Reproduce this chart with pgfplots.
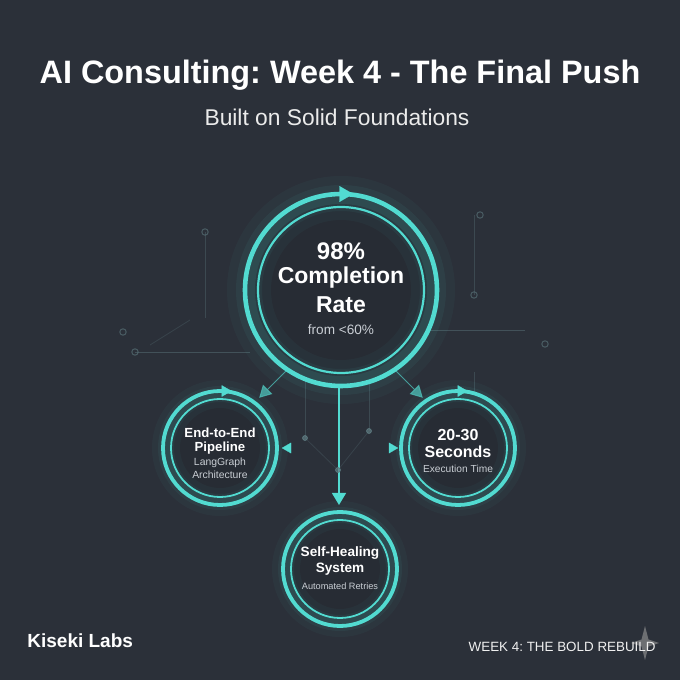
\documentclass[border=0pt]{standalone}
\usepackage{pgfplots}
\pgfplotsset{compat=1.18}
\usepackage{fontspec}
\setmainfont{Liberation Sans}
\usetikzlibrary{arrows.meta}
\definecolor{bg}{HTML}{2B3039}
\definecolor{inner}{HTML}{272C34}
\definecolor{cy}{HTML}{52DBD1}
\definecolor{cyl}{HTML}{4CB8B2}
\definecolor{sub}{HTML}{C9CED4}
\definecolor{faint}{HTML}{5E7A80}
\newcommand{\fs}[1]{\fontsize{#1}{#1}\selectfont}
\frenchspacing
\begin{document}
\begin{tikzpicture}
\begin{axis}[
  hide axis, scale only axis, width=340pt, height=340pt,
  xmin=0, xmax=680, ymin=0, ymax=680, y dir=reverse, clip=false,
  set layers,
]
\fill[bg] (axis cs:0,0) rectangle (axis cs:680,680);
% faint background network
\addplot[faint, opacity=0.45, line width=0.4pt] coordinates {(135,352) (250,352)};
\addplot[faint, opacity=0.45, line width=0.4pt] coordinates {(430,330) (525,330)};
\addplot[faint, opacity=0.35, line width=0.4pt] coordinates {(205,232) (205,318)};
\addplot[faint, opacity=0.35, line width=0.4pt] coordinates {(474,215) (474,295)};
\addplot[faint, opacity=0.35, line width=0.4pt] coordinates {(305,372) (305,438)};
\addplot[faint, opacity=0.35, line width=0.4pt] coordinates {(369,372) (369,431)};
\addplot[faint, opacity=0.35, line width=0.4pt] coordinates {(474,372) (474,392)};
\addplot[faint, opacity=0.25, line width=0.4pt] coordinates {(305,438) (338,470) (369,431)};
\addplot[faint, opacity=0.25, line width=0.4pt] coordinates {(190,320) (150,345)};
\addplot[faint, only marks, mark=o, mark size=1.6pt, mark options={draw=faint, line width=0.5pt, draw opacity=0.6}]
  coordinates {(135,352) (123,332) (474,295) (545,344) (480,215) (205,232)};
\addplot[faint, only marks, mark=*, mark size=1.2pt, mark options={fill=faint, draw=none, fill opacity=0.7}]
  coordinates {(305,438) (369,431) (338,470)};
% interiors
\addplot[inner, only marks, mark=*, mark size=48pt, mark options={fill=inner, draw=none}] coordinates {(341,290)};
\addplot[inner, only marks, mark=*, mark size=28.5pt, mark options={fill=inner, draw=none}] coordinates {(220,448) (458,448) (340,569)};
% glows
\addplot[cy, only marks, mark=o, mark size=46pt, mark options={draw=cy, line width=22pt, draw opacity=0.04}] coordinates {(341,290)};
\addplot[cy, only marks, mark=o, mark size=46pt, mark options={draw=cy, line width=13pt, draw opacity=0.06}] coordinates {(341,290)};
\addplot[cy, only marks, mark=o, mark size=46pt, mark options={draw=cy, line width=6pt, draw opacity=0.10}] coordinates {(341,290)};
\addplot[cy, only marks, mark=o, mark size=27pt, mark options={draw=cy, line width=14pt, draw opacity=0.04}] coordinates {(220,448) (458,448) (340,569)};
\addplot[cy, only marks, mark=o, mark size=27pt, mark options={draw=cy, line width=8pt, draw opacity=0.06}] coordinates {(220,448) (458,448) (340,569)};
\addplot[cy, only marks, mark=o, mark size=27pt, mark options={draw=cy, line width=4pt, draw opacity=0.10}] coordinates {(220,448) (458,448) (340,569)};
% rings
\addplot[cy, only marks, mark=o, mark size=48pt, mark options={draw=cy, line width=2.3pt}] coordinates {(341,290)};
\addplot[cy, only marks, mark=o, mark size=41.5pt, mark options={draw=cy, line width=1.1pt}] coordinates {(341,290)};
\addplot[cy, only marks, mark=o, mark size=28.5pt, mark options={draw=cy, line width=1.9pt}] coordinates {(220,448) (458,448) (340,569)};
\addplot[cy, only marks, mark=o, mark size=24.5pt, mark options={draw=cy, line width=0.9pt}] coordinates {(220,448) (458,448) (340,569)};
% ring arrowheads
\addplot[cy, only marks, mark=triangle*, mark size=4.5pt, mark options={fill=cy, draw=cy, line width=0.1pt, rotate=-90}] coordinates {(344,194)};
\addplot[cy, only marks, mark=triangle*, mark size=3.2pt, mark options={fill=cy, draw=cy, line width=0.1pt, rotate=-90}] coordinates {(225,391) (461,391)};
% connectors
\addplot[cyl, opacity=0.8, line width=0.5pt, -{Triangle[length=6pt,width=6.5pt]}, shorten >=-2pt] coordinates {(289,368) (262,395)};
\addplot[cyl, opacity=0.8, line width=0.5pt, -{Triangle[length=6pt,width=6.5pt]}, shorten >=-2pt] coordinates {(393,368) (420,395)};
\addplot[cy, line width=0.7pt, -{Triangle[length=6pt,width=7pt]}] coordinates {(339,386) (339,505)};
\addplot[cy, only marks, mark=triangle*, mark size=3pt, mark options={fill=cy, draw=cy, line width=0.1pt, rotate=90}] coordinates {(288,448)};
\addplot[cy, only marks, mark=triangle*, mark size=3pt, mark options={fill=cy, draw=cy, line width=0.1pt, rotate=-90}] coordinates {(392,448)};
% sparkle
\addplot[fill=gray!80, draw=none, opacity=0.6] coordinates {(645,626) (648.5,639.5) (659,643) (648.5,646.5) (645,660) (641.5,646.5) (631,643) (641.5,639.5)} -- cycle;
% texts
\begin{pgfonlayer}{axis foreground}
\node[text=white, font=\fs{16.2}\bfseries] at (axis cs:340,75) {AI Consulting: Week 4 - The Final Push};
\node[text=white!92!black, font=\fs{11.4}] at (axis cs:337,117) {Built on Solid Foundations};
\node[text=white, font=\fs{12}\bfseries] at (axis cs:341,251) {98\%};
\node[text=white, font=\fs{11.5}\bfseries] at (axis cs:341,278) {Completion};
\node[text=white, font=\fs{11.5}\bfseries] at (axis cs:341,305) {Rate};
\node[text=sub, font=\fs{6.8}] at (axis cs:341,330) {from <60\%};
\node[text=white, font=\fs{6.6}\bfseries] at (axis cs:220,433) {End-to-End};
\node[text=white, font=\fs{6.6}\bfseries] at (axis cs:220,448) {Pipeline};
\node[text=sub, font=\fs{5.2}] at (axis cs:220,463) {LangGraph};
\node[text=sub, font=\fs{5.2}] at (axis cs:220,475) {Architecture};
\node[text=white, font=\fs{8}\bfseries] at (axis cs:458,435) {20-30};
\node[text=white, font=\fs{8}\bfseries] at (axis cs:458,452) {Seconds};
\node[text=sub, font=\fs{5.1}] at (axis cs:458,469) {Execution Time};
\node[text=white, font=\fs{6.8}\bfseries] at (axis cs:340,553) {Self-Healing};
\node[text=white, font=\fs{6.8}\bfseries] at (axis cs:340,569) {System};
\node[text=sub, font=\fs{4.6}] at (axis cs:340,586) {Automated Retries};
\node[text=white, font=\fs{9.5}\bfseries, anchor=west, inner sep=0pt] at (axis cs:27,641) {Kiseki Labs};
\node[text=white!94!black, font=\fs{6.7}, anchor=east, inner sep=0pt] at (axis cs:656,647) {WEEK 4: THE BOLD REBUILD};
\end{pgfonlayer}
\end{axis}
\end{tikzpicture}
\end{document}
